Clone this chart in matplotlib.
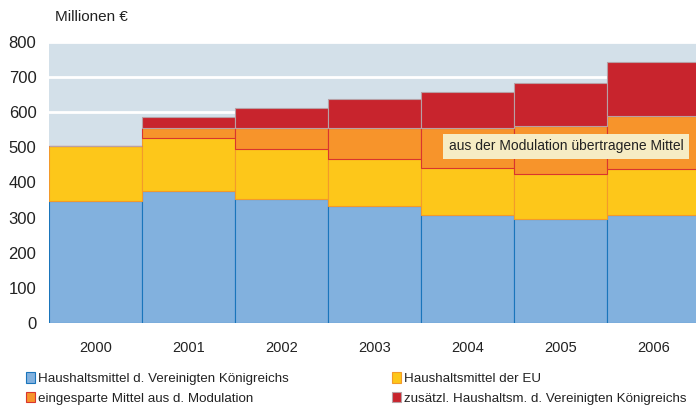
import matplotlib.pyplot as plt
import numpy as np

plt.rcParams['font.family'] = ['Liberation Sans', 'DejaVu Sans']

years = ['2000', '2001', '2002', '2003', '2004', '2005', '2006']
uk_budget = [347, 375, 354, 332, 308, 297, 308]
eu_budget = [157, 151, 141, 134, 133, 127, 131]
modulation = [0, 29, 60, 90, 115, 137, 151]
uk_extra = [0, 30, 56, 80, 102, 121, 151]

labels = ['Haushaltsmittel d. Vereinigten Königreichs',
          'Haushaltsmittel der EU',
          'eingesparte Mittel aus d. Modulation',
          'zusätzl. Haushaltsm. d. Vereinigten Königreichs']
colors = ['#82b1de', '#fdc71a', '#f7942b', '#c8242d']
edges = ['#1a75bb', '#f39a2a', '#d9352e', '#b8a0a5']

fig = plt.figure(figsize=(6.96, 4.08), dpi=100)
ax = fig.add_axes([0.0704, 0.2076, 0.9296, 0.6902])
ax.set_facecolor('#d3e0e9')

x = np.arange(len(years))
bottom = np.zeros(len(years))
bars = []
for vals, c, e, lab in zip([uk_budget, eu_budget, modulation, uk_extra], colors, edges, labels):
    b = ax.bar(x, vals, width=1.0, bottom=bottom, color=c, edgecolor=e,
               linewidth=0.8, label=lab, zorder=3)
    bars.append(b)
    bottom += np.array(vals)

ax.set_xlim(-0.5, 6.457)
ax.set_ylim(0, 800)
ax.set_yticks(range(0, 801, 100))
ax.set_xticks(x)
ax.set_xticklabels(years)
ax.yaxis.grid(True, color='white', linewidth=2)
ax.set_axisbelow(True)
for s in ax.spines.values():
    s.set_visible(False)
ax.tick_params(axis='y', length=0, pad=9, labelsize=12, labelcolor='#222222')
ax.tick_params(axis='x', length=0, pad=13, labelsize=10.5, labelcolor='#222222')

fig.text(55 / 696, 1 - 17 / 408, 'Millionen €', fontsize=11, va='center', ha='left', color='#222222')

ax.text(5.06, 503, 'aus der Modulation übertragene Mittel', ha='center', va='center',
        fontsize=10, color='#222222', zorder=5,
        bbox=dict(boxstyle='square,pad=0.4', facecolor='#f6ecc4', edgecolor='none'))

leg = fig.legend([bars[0], bars[2], bars[1], bars[3]],
                 [labels[0], labels[2], labels[1], labels[3]],
                 ncol=2, loc='upper left', bbox_to_anchor=(26 / 696, 1 - 372 / 408),
                 frameon=False, fontsize=9.6, handlelength=0.7, handleheight=0.85,
                 handletextpad=0.2, columnspacing=7.75, labelspacing=0.5,
                 borderaxespad=0, borderpad=0)
for t in leg.get_texts():
    t.set_color('#222222')

plt.savefig('out.png', dpi=100)
